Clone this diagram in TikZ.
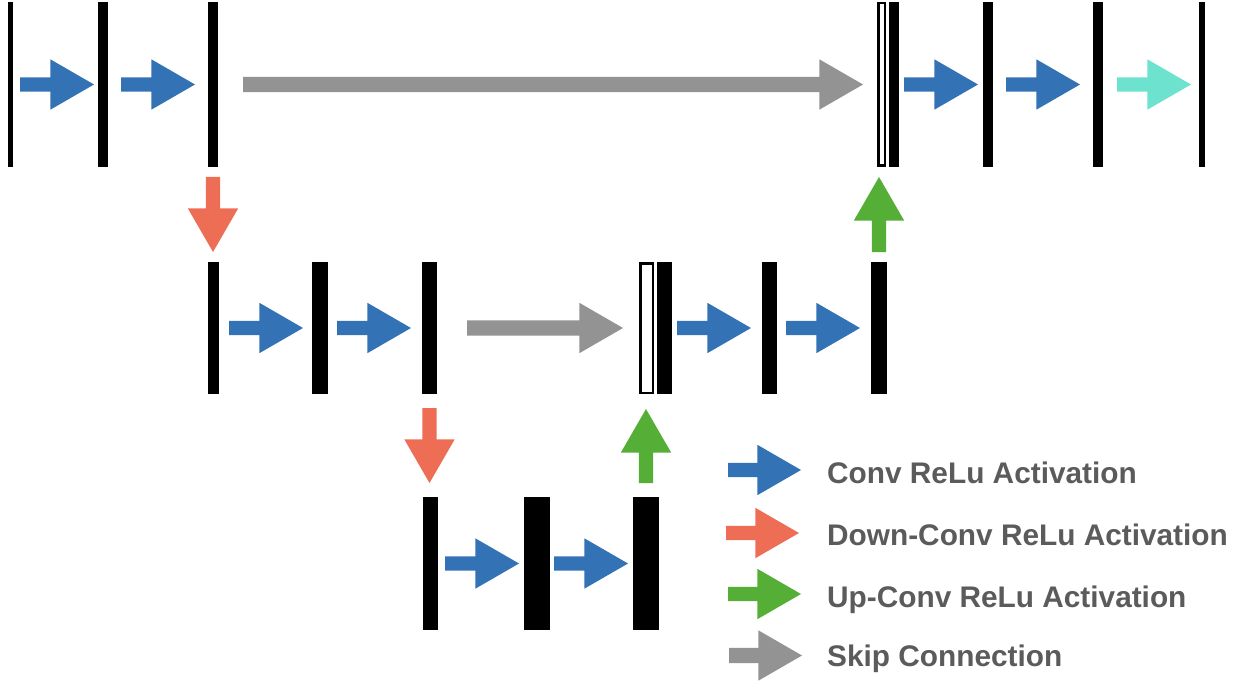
\documentclass[tikz,border=0pt]{standalone}
\usepackage{fontspec}
\setmainfont{Liberation Sans}
\usetikzlibrary{shapes.arrows}
\definecolor{convblue}{HTML}{3373B5}
\definecolor{downred}{HTML}{EE6E55}
\definecolor{upgreen}{HTML}{55AE35}
\definecolor{skipgray}{HTML}{939393}
\definecolor{outcyan}{HTML}{6DE3CF}
\definecolor{legtext}{HTML}{5B5B5B}
\begin{document}
\begin{tikzpicture}[x=1pt,y=-1pt,
  bar/.style={rectangle, fill=black, inner sep=0pt, outer sep=0pt},
  catbar/.style={rectangle, draw=black, fill=white, line width=2.5pt, inner sep=0pt, outer sep=0pt},
  blk/.style={single arrow, draw=none, inner xsep=0pt, inner ysep=7pt, outer sep=0pt,
    single arrow head extend=18pt, single arrow tip angle=60, minimum height=74pt, anchor=tail},
  vblk/.style={blk, inner xsep=7pt, inner ysep=0pt},
  conv/.style={blk, fill=convblue},
  outconv/.style={blk, fill=outcyan},
  down/.style={vblk, fill=downred, shape border rotate=270},
  up/.style={vblk, fill=upgreen, shape border rotate=90},
  skip/.style={blk, fill=skipgray, inner ysep=7.5pt, single arrow head extend=17.5pt},
  legend/.style={anchor=base west, inner sep=0pt, text=legtext,
    font=\fontsize{29.8pt}{35pt}\selectfont\bfseries}
]
\useasboundingbox (0,0) rectangle (1256,682);

% top row
\node[bar, minimum width=5pt,  minimum height=165pt] (t1) at (10.5,84.5) {};
\node[bar, minimum width=10pt, minimum height=165pt] (t2) at (103,84.5) {};
\node[bar, minimum width=10pt, minimum height=165pt] (t3) at (213,84.5) {};
\node[catbar, minimum width=6.5pt, minimum height=162.5pt] (tc) at (881.5,84.5) {};
\node[bar, minimum width=10pt, minimum height=165pt] (t4) at (894,84.5) {};
\node[bar, minimum width=10pt, minimum height=165pt] (t5) at (988,84.5) {};
\node[bar, minimum width=10pt, minimum height=165pt] (t6) at (1098,84.5) {};
\node[bar, minimum width=6pt,  minimum height=165pt] (t7) at (1202,84.5) {};

% middle row
\node[bar, minimum width=11pt, minimum height=132pt] (m1) at (213.5,328) {};
\node[bar, minimum width=16pt, minimum height=132pt] (m2) at (320,328) {};
\node[bar, minimum width=15pt, minimum height=132pt] (m3) at (429.5,328) {};
\node[catbar, minimum width=12.5pt, minimum height=129.5pt] (mc) at (646.5,328) {};
\node[bar, minimum width=15pt, minimum height=132pt] (m4) at (664.5,328) {};
\node[bar, minimum width=15pt, minimum height=132pt] (m5) at (769.5,328) {};
\node[bar, minimum width=16pt, minimum height=132pt] (m6) at (879,328) {};

% bottom row
\node[bar, minimum width=15pt, minimum height=133pt] (b1) at (430.5,563.5) {};
\node[bar, minimum width=26pt, minimum height=133pt] (b2) at (537,563.5) {};
\node[bar, minimum width=26pt, minimum height=133pt] (b3) at (646,563.5) {};

% top row arrows
\node[conv] (a1) at ([xshift=7pt]t1.east) {};
\node[conv] (a2) at ([xshift=13pt]t2.east) {};
\node[skip, minimum height=620pt] (s1) at ([xshift=25pt]t3.east) {};
\node[conv] (a3) at ([xshift=5pt]t4.east) {};
\node[conv] (a4) at ([xshift=13pt]t5.east) {};
\node[outconv] (a5) at ([xshift=14pt]t6.east) {};

% middle row arrows
\node[conv] (a6) at ([xshift=10pt]m1.east) {};
\node[conv] (a7) at ([xshift=9pt]m2.east) {};
\node[skip, minimum height=156pt] (s2) at ([xshift=30pt]m3.east) {};
\node[conv] (a8) at ([xshift=5pt]m4.east) {};
\node[conv] (a9) at ([xshift=9pt]m5.east) {};

% bottom row arrows
\node[conv] (a10) at ([xshift=7pt]b1.east) {};
\node[conv] (a11) at ([xshift=4pt]b2.east) {};

% vertical arrows
\node[down, minimum height=75pt] (d1) at ([yshift=-10pt]t3.south) {};
\node[down, minimum height=75pt] (d2) at ([yshift=-14pt]m3.south) {};
\node[up, minimum height=74pt] (u1) at ([yshift=14pt]b3.north) {};
\node[up, minimum height=75pt] (u2) at ([yshift=10pt]m6.north) {};

% legend
\node[conv, minimum height=73pt] (lg1) at (728,470) {};
\node[blk, fill=downred, minimum height=73pt] (lg2) at (726,533) {};
\node[blk, fill=upgreen, minimum height=73pt] (lg3) at (728,594) {};
\node[skip, minimum height=73pt] (lg4) at (729,655.5) {};
\node[legend] (lt1) at (827,483) {Conv ReLu Activation};
\node[legend] (lt2) at (827,545) {Down-Conv ReLu Activation};
\node[legend] (lt3) at (827,607) {Up-Conv ReLu Activation};
\node[legend] (lt4) at (827,666) {Skip Connection};
\end{tikzpicture}
\end{document}
